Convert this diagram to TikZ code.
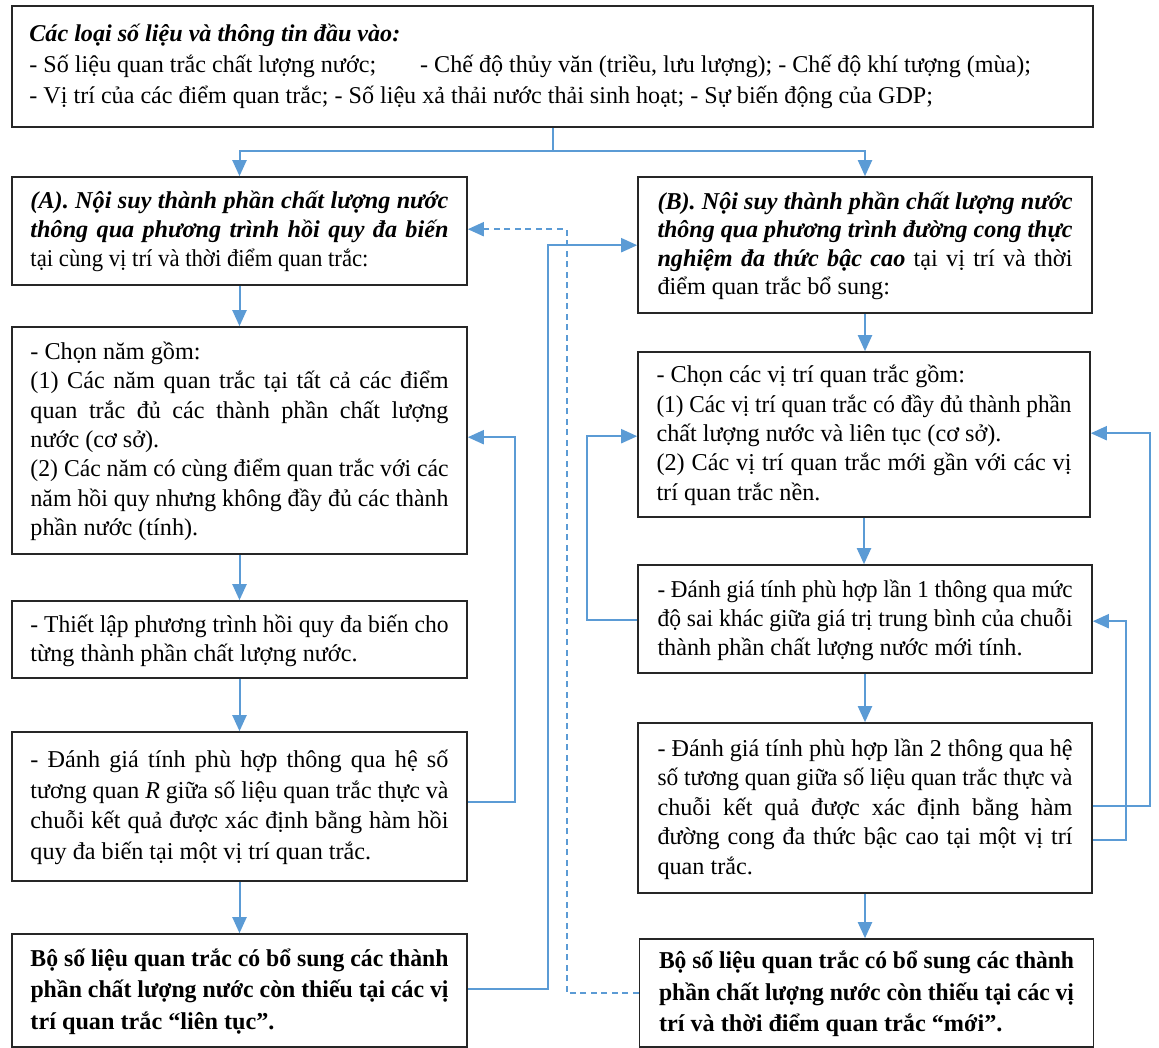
\documentclass[tikz,border=0pt]{standalone}
\usepackage{fontspec}
\usepackage{graphicx}
\setmainfont{Liberation Serif}
\usetikzlibrary{arrows.meta,calc}
\definecolor{connblue}{HTML}{5B9BD5}
\newsavebox\jlbox
\newcommand{\jl}[1]{{\spaceskip=0pt\xspaceskip=0pt\sbox\jlbox{#1}%
  \ifdim\wd\jlbox>\hsize\resizebox{\hsize}{\height}{\usebox\jlbox}%
  \else\makebox[\hsize][s]{#1}\fi}}
\newcommand{\bi}[1]{\textbf{\textit{#1}}}
\newcommand{\tsr}{\rule{0pt}{28pt}}
\newcommand{\bsr}{\rule[-14pt]{0pt}{14pt}}
\newcommand{\fsz}[1]{\fontsize{24.2}{#1}\selectfont}
\begin{document}
\begin{tikzpicture}[x=1pt,y=-1pt,
  box/.style={draw=black!85, line width=1.6pt, inner xsep=0pt, inner ysep=0pt,
    align=flush left, font=\fsz{29.5}},
  abox/.style={box, text width=418pt, minimum width=455pt},
  bbox/.style={box, text width=415pt, minimum width=454pt},
  connline/.style={draw=connblue, line width=2pt},
  arr/.style={connline, -{Triangle[length=16pt,width=14pt]}},
  dasharr/.style={arr, dash pattern=on 6pt off 4.5pt}]
\useasboundingbox (0,0) rectangle (1159,1048);
\fill[white] (0,0) rectangle (1159,1048);

% top box
\node[box, minimum width=1081pt, minimum height=121pt] (top) at (552.5,66.5) {};
\node[anchor=north west, inner sep=0pt, align=flush left, font=\fontsize{24.1}{31}\selectfont] (toptext)
  at ($(top.north west)+(18,19)$) {\bi{Các loại số liệu và thông tin đầu vào:}\\
- Số liệu quan trắc chất lượng nước;\hspace{44pt}- Chế độ thủy văn (triều, lưu lượng); - Chế độ khí tượng (mùa);\\
- Vị trí của các điểm quan trắc; - Số liệu xả thải nước thải sinh hoạt; - Sự biến động của GDP;};

% left column
\node[abox, minimum height=108pt, font=\fsz{29}] (a) at (239.5,231) {%
\tsr\jl{\bi{(A). Nội suy thành phần chất lượng nước}}\\
\jl{\bi{thông qua phương trình hồi quy đa biến}}\\
\scalebox{0.94}[1]{tại cùng vị trí và thời điểm quan trắc:}\bsr};

\node[abox, minimum height=227pt, font=\fsz{29.3}] (achon) at (239.5,440.5) {%
\tsr- Chọn năm gồm:\\
\jl{(1) Các năm quan trắc tại tất cả các điểm}\\
\jl{quan trắc đủ các thành phần chất lượng}\\
nước (cơ sở).\\
\jl{(2) Các năm có cùng điểm quan trắc với các}\\
\jl{năm hồi quy nhưng không đầy đủ các thành}\\
phần nước (tính).\bsr};

\node[abox, minimum height=77pt, font=\fsz{29}] (athiet) at (239.5,639.5) {%
\tsr\jl{- Thiết lập phương trình hồi quy đa biến cho}\\
từng thành phần chất lượng nước.\bsr};

\node[abox, minimum height=149pt, font=\fsz{30.7}] (aeval) at (239.5,806.5) {%
\tsr\jl{- Đánh giá tính phù hợp thông qua hệ số}\\
\jl{tương quan \textit{R} giữa số liệu quan trắc thực và}\\
\jl{chuỗi kết quả được xác định bằng hàm hồi}\\
quy đa biến tại một vị trí quan trắc.\bsr};

\node[abox, minimum height=113pt, font=\fsz{31.5}\bfseries] (afinal) at (239.5,990.5) {%
\tsr\jl{Bộ số liệu quan trắc có bổ sung các thành}\\
\jl{phần chất lượng nước còn thiếu tại các vị}\\
trí quan trắc “liên tục”.\bsr};

% right column
\node[bbox, minimum height=136pt, font=\fsz{28.5}] (b) at (865,245) {%
\tsr\jl{\bi{(B). Nội suy thành phần chất lượng nước}}\\
\jl{\bi{thông qua phương trình đường cong thực}}\\
\jl{\bi{nghiệm đa thức bậc cao} tại vị trí và thời}\\
điểm quan trắc bổ sung:\bsr};

\node[bbox, minimum height=165pt, minimum width=452pt, font=\fsz{29.3}] (bchon) at (864,434.5) {%
\tsr- Chọn các vị trí quan trắc gồm:\\
\jl{(1) Các vị trí quan trắc có đầy đủ thành phần}\\
chất lượng nước và liên tục (cơ sở).\\
\jl{(2) Các vị trí quan trắc mới gần với các vị}\\
trí quan trắc nền.\bsr};

\node[bbox, minimum height=108pt, font=\fsz{29}] (beval1) at (865,619) {%
\tsr\jl{- Đánh giá tính phù hợp lần 1 thông qua mức}\\
\jl{độ sai khác giữa giá trị trung bình của chuỗi}\\
thành phần chất lượng nước mới tính.\bsr};

\node[bbox, minimum height=170pt, font=\fsz{29.5}] (beval2) at (865,808) {%
\tsr\jl{- Đánh giá tính phù hợp lần 2 thông qua hệ}\\
\jl{số tương quan giữa số liệu quan trắc thực và}\\
\jl{chuỗi kết quả được xác định bằng hàm}\\
\jl{đường cong đa thức bậc cao tại một vị trí}\\
quan trắc.\bsr};

\node[bbox, minimum height=108pt, font=\fsz{31.5}\bfseries] (bfinal) at (866.5,993) {%
\tsr\jl{Bộ số liệu quan trắc có bổ sung các thành}\\
\jl{phần chất lượng nước còn thiếu tại các vị}\\
trí và thời điểm quan trắc “mới”.\bsr};

% top split
\draw[connline] (top.south) -- ++(0,23) coordinate (split);
\draw[arr] (split) -| (a.north);
\draw[arr] (split) -| (b.north);

% vertical flow
\draw[arr] (a.south) -- (a.south |- achon.north);
\draw[arr] (achon.south) -- (achon.south |- athiet.north);
\draw[arr] (athiet.south) -- (athiet.south |- aeval.north);
\draw[arr] (aeval.south) -- (aeval.south |- afinal.north);
\draw[arr] (b.south) -- (b.south |- bchon.north);
\draw[arr] (bchon.south) -- (bchon.south |- beval1.north);
\draw[arr] (beval1.south) -- (beval1.south |- beval2.north);
\draw[arr] (beval2.south) -- (beval2.south |- bfinal.north);

% feedback connectors
\draw[arr] ($(aeval.north east)+(0,71)$) -- ++(47,0) |- ($(achon.north east)+(0,111)$);
\draw[arr] ($(afinal.north east)+(0,56)$) -- ++(80,0) |- ($(b.north west)+(0,69)$);
\draw[dasharr] ($(bfinal.north west)+(0,55)$) -- ++(-72,0) |- ($(a.north east)+(0,53)$);
\draw[arr] ($(beval1.north west)+(0,56)$) -- ++(-50,0) |- ($(bchon.north west)+(0,85)$);
\draw[arr] ($(beval2.north east)+(0,84)$) -- ++(57,0) |- ($(bchon.north east)+(0,82)$);
\draw[arr] ($(beval2.north east)+(0,118)$) -- ++(33,0) |- ($(beval1.north east)+(0,57)$);
\end{tikzpicture}
\end{document}
